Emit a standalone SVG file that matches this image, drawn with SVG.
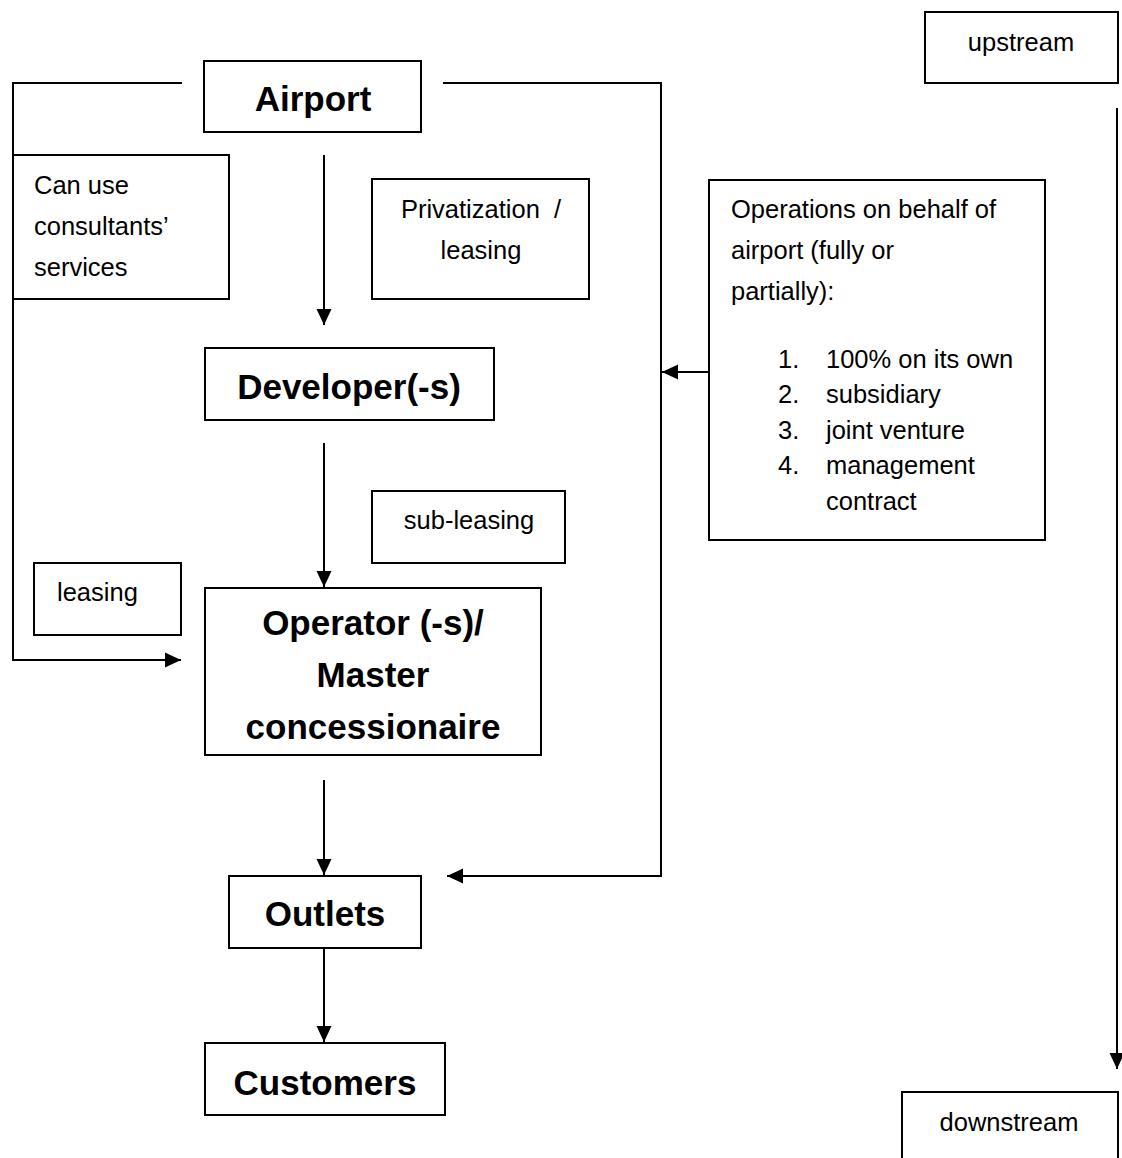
<svg xmlns="http://www.w3.org/2000/svg" width="1122" height="1158" viewBox="0 0 1122 1158">
<style>
.box{fill:#fff;stroke:#000;stroke-width:2}
.t{font-family:"Liberation Sans",Arial,sans-serif;font-size:25.5px;fill:#000}
.b{font-family:"Liberation Sans",Arial,sans-serif;font-size:35px;font-weight:bold;fill:#000}
.c{text-anchor:middle}
.ln{fill:none;stroke:#000;stroke-width:2}
</style>
<defs>
<marker id="ah" markerUnits="userSpaceOnUse" markerWidth="18" markerHeight="18" viewBox="0 0 18 18" refX="16" refY="9" orient="auto">
<path d="M0,1.5 L16,9 L0,16.5 Z" fill="#000"/>
</marker>
</defs>
<g id="connectors">
<path class="ln" d="M182,83 H13 V660 H181" marker-end="url(#ah)"/>
<path class="ln" d="M443,83 H661 V876 H447" marker-end="url(#ah)"/>
<path class="ln" d="M709,372 H662" marker-end="url(#ah)"/>
<path class="ln" d="M324,155 V325" marker-end="url(#ah)"/>
<path class="ln" d="M324,443 V587" marker-end="url(#ah)"/>
<path class="ln" d="M324,780 V875" marker-end="url(#ah)"/>
<path class="ln" d="M324,948 V1042" marker-end="url(#ah)"/>
<path class="ln" d="M1117,108 V1069" marker-end="url(#ah)"/>
</g>
<g id="airport"><rect class="box" x="204" y="61" width="217" height="71"/><text class="b c" x="313" y="111">Airport</text></g>
<g id="consultants"><rect class="box" x="13" y="155" width="216" height="144"/>
<text class="t" x="34" y="194">Can use</text><text class="t" x="34" y="235">consultants’</text><text class="t" x="34" y="276">services</text></g>
<g id="privatization"><rect class="box" x="372" y="179" width="217" height="120"/>
<text class="t c" x="481" y="218" xml:space="preserve">Privatization  /</text><text class="t c" x="481" y="259">leasing</text></g>
<g id="developer"><rect class="box" x="205" y="348" width="289" height="72"/><text class="b c" x="349" y="399">Developer(-s)</text></g>
<g id="operations"><rect class="box" x="709" y="180" width="336" height="360"/>
<text class="t" x="731" y="218">Operations on behalf of</text>
<text class="t" x="731" y="259">airport (fully or</text>
<text class="t" x="731" y="300">partially):</text>
<text class="t" x="778" y="368">1.</text><text class="t" x="826" y="368">100% on its own</text>
<text class="t" x="778" y="403">2.</text><text class="t" x="826" y="403">subsidiary</text>
<text class="t" x="778" y="439">3.</text><text class="t" x="826" y="439">joint venture</text>
<text class="t" x="778" y="474">4.</text><text class="t" x="826" y="474">management</text>
<text class="t" x="826" y="510">contract</text></g>
<g id="subleasing"><rect class="box" x="372" y="491" width="193" height="72"/><text class="t c" x="469" y="529">sub-leasing</text></g>
<g id="leasing"><rect class="box" x="34" y="563" width="147" height="72"/><text class="t" x="57" y="601">leasing</text></g>
<g id="operator"><rect class="box" x="205" y="588" width="336" height="167"/>
<text class="b c" x="373" y="635">Operator (-s)/</text><text class="b c" x="373" y="687">Master</text><text class="b c" x="373" y="739">concessionaire</text></g>
<g id="outlets"><rect class="box" x="229" y="876" width="192" height="72"/><text class="b c" x="325" y="926">Outlets</text></g>
<g id="customers"><rect class="box" x="205" y="1043" width="240" height="72"/><text class="b c" x="325" y="1095">Customers</text></g>
<g id="upstream"><rect class="box" x="925" y="12" width="193" height="71"/><text class="t c" x="1021" y="51">upstream</text></g>
<g id="downstream"><rect class="box" x="902" y="1092" width="216" height="80"/><text class="t c" x="1009" y="1131">downstream</text></g>
</svg>
